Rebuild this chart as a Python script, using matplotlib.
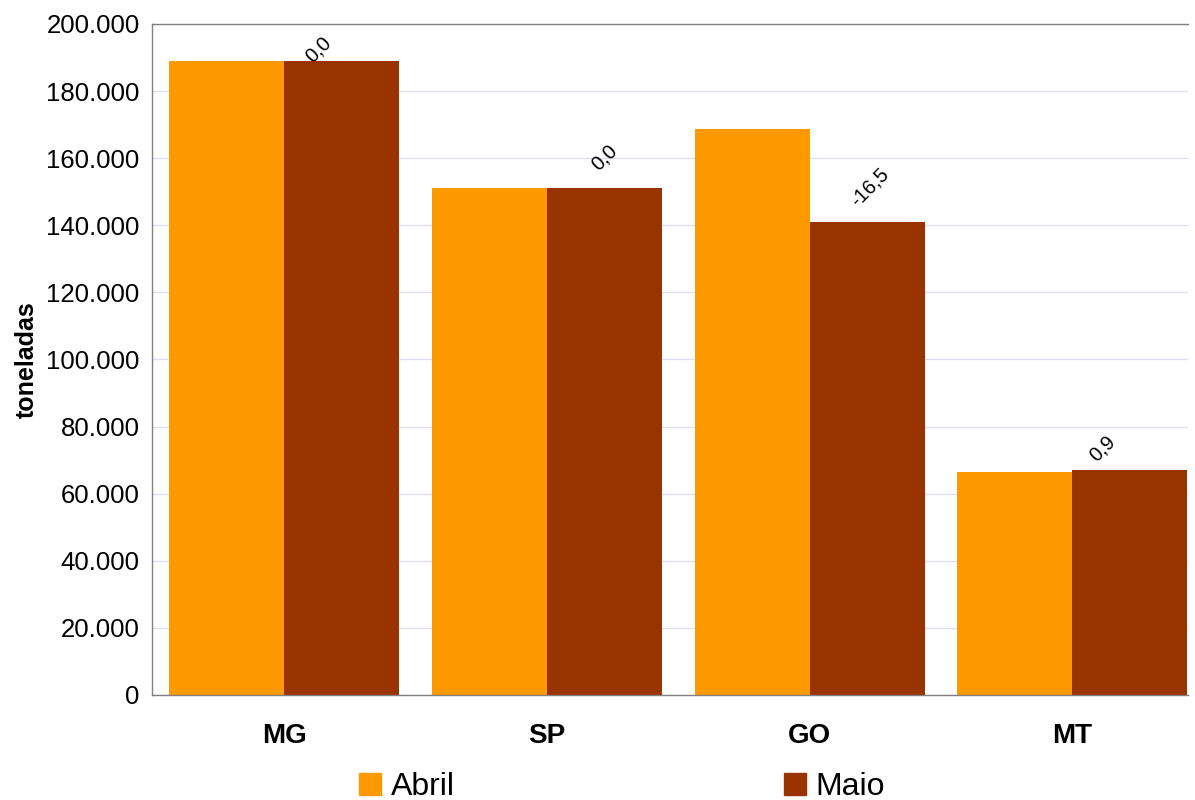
import numpy as np
import matplotlib.pyplot as plt
from matplotlib.ticker import FuncFormatter, MultipleLocator
from matplotlib.patches import Patch

plt.rcParams['font.family'] = ['Liberation Sans', 'DejaVu Sans']

# dados (toneladas)
estados = ['MG', 'SP', 'GO', 'MT']
abril = [189000, 151000, 168700, 66400]
maio = [189000, 151000, 140900, 67000]
variacao = ['0,0', '0,0', '-16,5', '0,9']
# posição dos rótulos em relação ao topo da barra de maio (pontos)
label_dx = [-17, 0, 1.5, -20]
label_dy = [8, 22, 25, 16]

cor_abril = '#FF9900'
cor_maio = '#993300'

fig = plt.figure(figsize=(11.95, 8.0), dpi=100)
ax = fig.add_axes([152 / 1195, 105 / 800, (1188 - 152) / 1195, (695 - 24) / 800])

x = np.arange(len(estados))
w = 0.438
ax.bar(x - w / 2, abril, width=w, color=cor_abril, zorder=2)
ax.bar(x + w / 2, maio, width=w, color=cor_maio, zorder=2)

for i in range(len(estados)):
    ax.annotate(variacao[i], (x[i] + w / 2, maio[i]), xytext=(label_dx[i], label_dy[i]),
                textcoords='offset points', rotation=45, ha='center', va='center',
                fontsize=14.5)

ax.set_xlim(-0.503, 3.44)
ax.set_ylim(0, 200000)
ax.yaxis.set_major_locator(MultipleLocator(20000))
ax.yaxis.set_major_formatter(FuncFormatter(lambda v, p: f'{int(v):,}'.replace(',', '.')))
ax.grid(axis='y', color='#DDDDF5', linewidth=1, zorder=0)
ax.set_xticks(x)
ax.set_xticklabels(estados, fontsize=20, fontweight='bold')
ax.tick_params(axis='x', length=0, pad=20)
ax.tick_params(axis='y', length=0, labelsize=18.5, pad=9)
ax.set_ylabel('toneladas', fontsize=18, fontweight='bold', labelpad=5)

for s in ['left', 'bottom', 'top']:
    ax.spines[s].set_color('#808080')
    ax.spines[s].set_linewidth(1)
ax.spines['right'].set_visible(False)

handles = [Patch(color=cor_abril), Patch(color=cor_maio)]
fig.legend(handles, ['Abril', 'Maio'], loc='center', bbox_to_anchor=(622 / 1195, 1 - 787 / 800),
           ncol=2, frameon=False, fontsize=23, columnspacing=10.3, handlelength=0.69,
           handleheight=0.69, handletextpad=0.3, borderpad=0)

fig.savefig('out.png', dpi=100)
